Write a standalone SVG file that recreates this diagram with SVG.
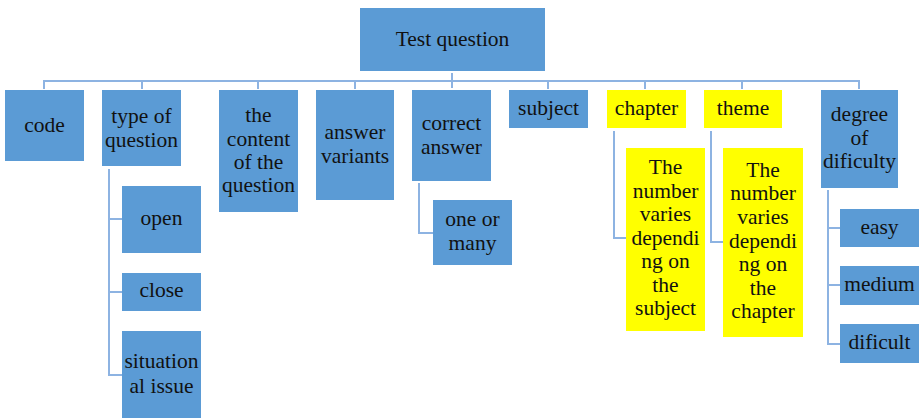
<svg xmlns="http://www.w3.org/2000/svg" width="922" height="418" viewBox="0 0 922 418">
  <style>
    .box { fill: #5B9BD5; }
    .hl { fill: #FFFF00; }
    .lbl { font-size: 21.5px; fill: #111; text-anchor: middle; }
    .conn { stroke: #8DB3E2; stroke-width: 2; fill: none; }
  </style>
  <rect width="922" height="418" fill="#ffffff"/>

  <!-- connectors -->
  <g id="connectors" class="conn">
    <path d="M452 73 V88"/>
    <path d="M44 89 V81 H859 V89"/>
    <path d="M142 81 V89 M258 81 V89 M355 81 V89 M548 81 V89 M645 81 V89 M742 81 V89"/>
    <path d="M109 169 V375 H122 M109 219 H122 M109 292 H122"/>
    <path d="M419 183 V233 H433"/>
    <path d="M614 131 V238 H626"/>
    <path d="M711 131 V242 H723"/>
    <path d="M828 190 V344 H840 M828 228 H840 M828 285 H840"/>
  </g>

  <g font-family="'Liberation Serif', 'Times New Roman', Times, serif">
  <g id="root">
    <rect class="box" x="360" y="8" width="185" height="63"/>
    <text class="lbl" x="452.5" y="46">Test question</text>
  </g>

  <g id="code">
    <rect class="box" x="5" y="90" width="79" height="71"/>
    <text class="lbl" x="44.5" y="132">code</text>
  </g>

  <g id="type-of-question">
    <rect class="box" x="102" y="90" width="79" height="76"/>
    <text class="lbl" x="141.5" y="123">type of</text>
    <text class="lbl" x="141.5" y="147">question</text>
  </g>

  <g id="content">
    <rect class="box" x="219" y="90" width="79" height="122"/>
    <text class="lbl" x="258.5" y="122">the</text>
    <text class="lbl" x="258.5" y="146">content</text>
    <text class="lbl" x="258.5" y="169">of the</text>
    <text class="lbl" x="258.5" y="192">question</text>
  </g>

  <g id="answer-variants">
    <rect class="box" x="316" y="90" width="78" height="110"/>
    <text class="lbl" x="355" y="139">answer</text>
    <text class="lbl" x="355" y="163">variants</text>
  </g>

  <g id="correct-answer">
    <rect class="box" x="412" y="90" width="79" height="91"/>
    <text class="lbl" x="451.5" y="130">correct</text>
    <text class="lbl" x="451.5" y="154">answer</text>
  </g>

  <g id="subject">
    <rect class="box" x="509" y="90" width="79" height="38"/>
    <text class="lbl" x="548.5" y="115">subject</text>
  </g>

  <g id="chapter">
    <rect class="hl" x="607" y="90" width="79" height="38"/>
    <text class="lbl" x="646.5" y="115">chapter</text>
  </g>

  <g id="theme">
    <rect class="hl" x="704" y="90" width="78" height="38"/>
    <text class="lbl" x="743" y="115">theme</text>
  </g>

  <g id="degree-of-difficulty">
    <rect class="box" x="821" y="90" width="77" height="98"/>
    <text class="lbl" x="859.5" y="121">degree</text>
    <text class="lbl" x="859.5" y="145">of</text>
    <text class="lbl" x="859.5" y="168">dificulty</text>
  </g>

  <g id="open">
    <rect class="box" x="122" y="186" width="79" height="67"/>
    <text class="lbl" x="161.5" y="225">open</text>
  </g>

  <g id="close">
    <rect class="box" x="122" y="273" width="79" height="38"/>
    <text class="lbl" x="161.5" y="297">close</text>
  </g>

  <g id="situational-issue">
    <rect class="box" x="122" y="331" width="79" height="87"/>
    <text class="lbl" x="161.5" y="368">situation</text>
    <text class="lbl" x="161.5" y="393">al issue</text>
  </g>

  <g id="one-or-many">
    <rect class="box" x="433" y="200" width="79" height="65"/>
    <text class="lbl" x="472.5" y="226">one or</text>
    <text class="lbl" x="472.5" y="250">many</text>
  </g>

  <g id="chapter-note">
    <rect class="hl" x="626" y="148" width="79" height="183"/>
    <text class="lbl" x="665.5" y="174">The</text>
    <text class="lbl" x="665.5" y="198">number</text>
    <text class="lbl" x="665.5" y="221">varies</text>
    <text class="lbl" x="665.5" y="245">dependi</text>
    <text class="lbl" x="665.5" y="268">ng on</text>
    <text class="lbl" x="665.5" y="292">the</text>
    <text class="lbl" x="665.5" y="315">subject</text>
  </g>

  <g id="theme-note">
    <rect class="hl" x="723" y="148" width="80" height="189"/>
    <text class="lbl" x="763" y="177">The</text>
    <text class="lbl" x="763" y="200">number</text>
    <text class="lbl" x="763" y="224">varies</text>
    <text class="lbl" x="763" y="248">dependi</text>
    <text class="lbl" x="763" y="271">ng on</text>
    <text class="lbl" x="763" y="295">the</text>
    <text class="lbl" x="763" y="318">chapter</text>
  </g>

  <g id="easy">
    <rect class="box" x="840" y="209" width="79" height="38"/>
    <text class="lbl" x="879.5" y="234">easy</text>
  </g>

  <g id="medium">
    <rect class="box" x="840" y="266" width="79" height="39"/>
    <text class="lbl" x="879.5" y="291">medium</text>
  </g>

  <g id="difficult">
    <rect class="box" x="840" y="324" width="79" height="39"/>
    <text class="lbl" x="879.5" y="349">dificult</text>
  </g>
  </g>
</svg>
